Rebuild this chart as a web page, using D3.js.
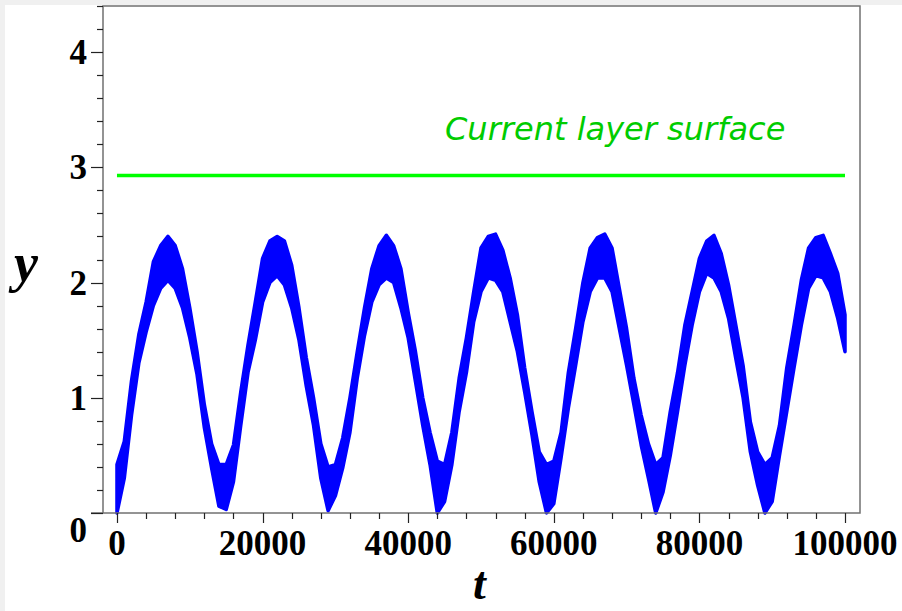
<!DOCTYPE html>
<html>
<head>
<meta charset="utf-8">
<script src="https://cdn.jsdelivr.net/npm/d3@7"></script>
<style>
  body { margin: 0; background: #fff; }
  svg { display: block; }
</style>
</head>
<body>
<div class="drawingboard"></div>
<script>
// sampled time points (t) and the lower / upper edge of the blue band at each one
var sampleT = [0, 1000, 2000, 3000, 4000, 5000, 6000, 7000, 8000, 9000,
  10000, 11000, 12000, 13000, 14000, 15000, 16000, 17000, 18000, 19000,
  20000, 21000, 22000, 23000, 24000, 25000, 26000, 27000, 28000, 29000,
  30000, 31000, 32000, 33000, 34000, 35000, 36000, 37000, 38000, 39000,
  40000, 41000, 42000, 43000, 44000, 45000, 46000, 47000, 48000, 49000,
  50000, 51000, 52000, 53000, 54000, 55000, 56000, 57000, 58000, 59000,
  60000, 61000, 62000, 63000, 64000, 65000, 66000, 67000, 68000, 69000,
  70000, 71000, 72000, 73000, 74000, 75000, 76000, 77000, 78000, 79000,
  80000, 81000, 82000, 83000, 84000, 85000, 86000, 87000, 88000, 89000,
  90000, 91000, 92000, 93000, 94000, 95000, 96000, 97000, 98000, 99000,
  100000];

var bandLow = [0.00, 0.30, 0.85, 1.30, 1.57, 1.80, 1.95, 2.02, 1.95, 1.78,
  1.52, 1.20, 0.74, 0.39, 0.06, 0.03, 0.27, 0.76, 1.22, 1.50,
  1.83, 2.00, 2.06, 1.98, 1.78, 1.50, 1.10, 0.76, 0.30, 0.02,
  0.15, 0.39, 0.70, 1.17, 1.54, 1.83, 1.98, 2.04, 2.00, 1.78,
  1.52, 1.14, 0.76, 0.42, 0.00, 0.10, 0.42, 0.88, 1.22, 1.66,
  1.92, 2.04, 2.02, 1.92, 1.66, 1.40, 1.05, 0.68, 0.27, 0.00,
  0.08, 0.48, 0.91, 1.28, 1.66, 1.92, 2.04, 2.04, 1.92, 1.60,
  1.28, 0.94, 0.59, 0.30, 0.00, 0.18, 0.50, 0.88, 1.28, 1.63,
  1.92, 2.08, 2.04, 1.92, 1.69, 1.34, 1.00, 0.53, 0.24, 0.00,
  0.10, 0.50, 0.88, 1.26, 1.63, 1.95, 2.06, 2.04, 1.92, 1.69,
  1.40];

var bandHigh = [0.42, 0.62, 1.15, 1.55, 1.83, 2.18, 2.32, 2.40, 2.32, 2.12,
  1.78, 1.40, 0.94, 0.60, 0.42, 0.42, 0.59, 1.05, 1.46, 1.83,
  2.21, 2.36, 2.40, 2.36, 2.15, 1.78, 1.35, 1.00, 0.60, 0.40,
  0.42, 0.65, 1.00, 1.40, 1.78, 2.12, 2.32, 2.41, 2.32, 2.12,
  1.74, 1.40, 1.00, 0.70, 0.45, 0.42, 0.70, 1.17, 1.52, 1.92,
  2.30, 2.40, 2.42, 2.28, 2.04, 1.72, 1.26, 0.88, 0.53, 0.42,
  0.45, 0.70, 1.22, 1.60, 2.00, 2.30, 2.39, 2.42, 2.30, 1.95,
  1.60, 1.17, 0.85, 0.60, 0.42, 0.48, 0.88, 1.22, 1.63, 1.92,
  2.21, 2.36, 2.41, 2.25, 1.98, 1.63, 1.28, 0.79, 0.53, 0.42,
  0.48, 0.76, 1.26, 1.63, 2.02, 2.30, 2.39, 2.41, 2.25, 2.08,
  1.72];

// current layer surface (green line)
var surfaceT = [0, 100000];
var surfaceY = [2.93, 2.93];

var xTicks = [0, 20000, 40000, 60000, 80000, 100000];
var yTicks = [0, 1, 2, 3, 4];

var width = 902;
var height = 611;

var svg = d3.select(".drawingboard")
  .append("svg")
  .attr("width", width)
  .attr("height", height);

// light grey edge strips left over from the screenshot
svg.append("rect").attr("x", 0).attr("y", 0).attr("width", width).attr("height", 5).style("fill", "#f0f0f0");
svg.append("rect").attr("x", 0).attr("y", 0).attr("width", 5).attr("height", height).style("fill", "#f0f0f0");

var x = d3.scaleLinear().domain([-1920, 102060]).range([103, 860]);
var y = d3.scaleLinear().domain([0, 4.4]).range([513, 6]);

var band = sampleT.map(function (t, i) {
  return { t: t, lo: bandLow[i], hi: bandHigh[i] };
});

var area = d3.area()
  .x(function (d) { return x(d.t); })
  .y0(function (d) { return y(d.lo); })
  .y1(function (d) { return y(d.hi); });

svg.append("path")
  .datum(band)
  .attr("d", area)
  .style("fill", "#0000ff")
  .style("stroke", "#0000ff")
  .style("stroke-width", 3.5)
  .style("stroke-linejoin", "round");

var surface = surfaceT.map(function (t, i) { return { t: t, v: surfaceY[i] }; });
svg.append("path")
  .datum(surface)
  .attr("d", d3.line().x(function (d) { return x(d.t); }).y(function (d) { return y(d.v); }))
  .style("fill", "none")
  .style("stroke", "#00ff00")
  .style("stroke-width", 3.5);

svg.append("text")
  .attr("x", 445)
  .attr("y", 140)
  .style("font-family", "DejaVu Sans")
  .style("font-style", "oblique")
  .style("font-size", "32px")
  .style("fill", "#00cc00")
  .text("Current layer surface");

// frame
var frame = "#707070";
svg.append("rect")
  .attr("x", 103).attr("y", 6)
  .attr("width", 757).attr("height", 507)
  .style("fill", "none")
  .style("stroke", frame)
  .style("stroke-width", 1.5);
svg.append("line")
  .attr("x1", 91).attr("x2", 103).attr("y1", 513).attr("y2", 513)
  .style("stroke", frame).style("stroke-width", 1.5);

// y axis ticks
var yMinor = d3.range(0, 4.41, 0.2);
svg.append("g").selectAll("line")
  .data(yMinor)
  .enter().append("line")
  .attr("x1", function (d) { return Math.abs(d - Math.round(d)) < 1e-6 ? 91 : 97; })
  .attr("x2", 103)
  .attr("y1", function (d) { return Math.round(y(d)) + 0.5; })
  .attr("y2", function (d) { return Math.round(y(d)) + 0.5; })
  .style("stroke", "#222")
  .style("stroke-width", 1.2);

svg.append("g").selectAll("text")
  .data(yTicks)
  .enter().append("text")
  .attr("x", 87)
  .attr("y", function (d) { return d === 0 ? 542 : y(d) + 12; })
  .style("text-anchor", "end")
  .style("font-family", "Liberation Serif")
  .style("font-weight", "bold")
  .style("font-size", "35px")
  .text(function (d) { return d; });

// x axis ticks
var xMinor = d3.range(0, 100001, 4000);
svg.append("g").selectAll("line")
  .data(xMinor)
  .enter().append("line")
  .attr("x1", function (d) { return Math.round(x(d)) + 0.5; })
  .attr("x2", function (d) { return Math.round(x(d)) + 0.5; })
  .attr("y1", 513)
  .attr("y2", function (d) { return d % 20000 === 0 ? 523 : 519; })
  .style("stroke", "#222")
  .style("stroke-width", 1.2);

svg.append("g").selectAll("text")
  .data(xTicks)
  .enter().append("text")
  .attr("x", function (d) { return x(d); })
  .attr("y", 555)
  .style("text-anchor", "middle")
  .style("font-family", "Liberation Serif")
  .style("font-weight", "bold")
  .style("font-size", "35px")
  .text(function (d) { return d; });

// axis titles
svg.append("text")
  .attr("x", 14)
  .attr("y", 281)
  .style("font-family", "Liberation Serif")
  .style("font-style", "italic")
  .style("font-weight", "bold")
  .style("font-size", "54px")
  .text("y");

svg.append("text")
  .attr("x", 473)
  .attr("y", 599)
  .style("font-family", "Liberation Serif")
  .style("font-style", "italic")
  .style("font-weight", "bold")
  .style("font-size", "46px")
  .text("t");
</script>
</body>
</html>
